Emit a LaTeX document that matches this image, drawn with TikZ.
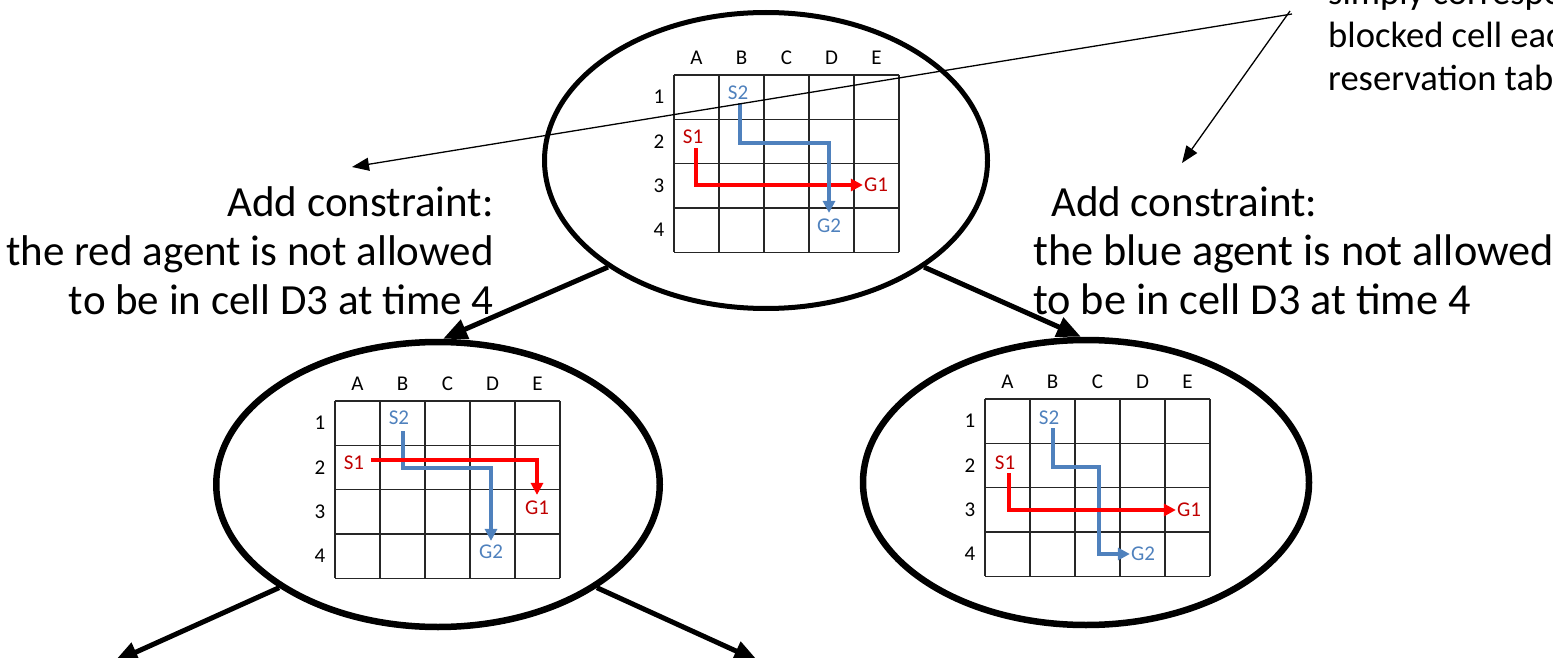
\documentclass[tikz,border=0pt]{standalone}
\usepackage{fontspec}
\setmainfont{Carlito}
\usetikzlibrary{shapes.geometric,arrows.meta}
\definecolor{agentblue}{RGB}{79,129,189}
\definecolor{agentred}{RGB}{255,0,0}
\definecolor{labelred}{RGB}{192,0,0}
\newcommand{\mfgrid}[3]{%
 \begin{scope}[shift={(#1,#2)}]
 \foreach \i in {0,...,5} {\draw[gridline] ({\i*45},0) -- ({\i*45},177.2);}
 \foreach \j in {0,...,4} {\draw[gridline] (0,{\j*44.3}) -- (225,{\j*44.3});}
 \foreach \l [count=\k] in {A,B,C,D,E} {\node[lbl] (#3c\l) at ({\k*45-22.5},-17) {\l};}
 \foreach \k in {1,...,4} {\node[lbl] (#3r\k) at (-15,{\k*44.3-22.15}) {\k};}
 \end{scope}}
\begin{document}
\begin{tikzpicture}[x=1pt,y=-1pt,
  state/.style={ellipse, draw=black, inner sep=0pt},
  gridline/.style={draw=black!85, line width=1.2pt, line cap=square},
  lbl/.style={font=\fontsize{21}{25}\selectfont, inner sep=0pt, text=black},
  blbl/.style={lbl, text=agentblue},
  rlbl/.style={lbl, text=labelred},
  bluepath/.style={draw=agentblue, line width=3.5pt, -{Triangle[length=12pt,width=12pt]}},
  redpath/.style={draw=agentred, line width=3.5pt, -{Triangle[length=12pt,width=12pt]}},
  branch/.style={draw=black, line width=5pt, -{Triangle[length=24pt,width=20pt]}},
  pointer/.style={draw=black, line width=1.3pt, -{Triangle[length=17pt,width=13pt]}},
  bigtext/.style={font=\fontsize{43}{49}\selectfont, inner sep=0pt},
  bigtextb/.style={font=\fontsize{44.3}{50}\selectfont, inner sep=0pt},
  notetext/.style={font=\fontsize{36.6}{43}\selectfont, inner sep=0pt}]
\useasboundingbox (0,0) rectangle (1553,658);
\clip (0,0) rectangle (1553,658);

% tree nodes
\node[state, line width=5pt, minimum width=443pt, minimum height=296pt] (root) at (766,160.5) {};
\node[state, line width=6.5pt, minimum width=443.5pt, minimum height=285pt] (left) at (438,484.5) {};
\node[state, line width=6.5pt, minimum width=446pt, minimum height=285pt] (right) at (1086,482.5) {};

% grids
\mfgrid{674}{75}{t}
\mfgrid{335}{401}{l}
\mfgrid{985}{399}{r}

% top grid agents
\node[blbl] (tS2) at (738,93) {S2};
\node[blbl] (tG2) at (829,226) {G2};
\node[rlbl] (tS1) at (693,137) {S1};
\node[rlbl] (tG1) at (876,185) {G1};
\draw[redpath] ([xshift=3pt,yshift=-4pt]tS1.south) |- ([xshift=-1pt]tG1.west);
\draw[bluepath] ([xshift=2pt,yshift=-3pt]tS2.south) |- (829,143) -- ([yshift=6pt]tG2.north);

% left grid agents
\node[blbl] (lS2) at (399,418) {S2};
\node[blbl] (lG2) at (491,552) {G2};
\node[rlbl] (lS1) at (354,463) {S1};
\node[rlbl] (lG1) at (537,508) {G1};
\draw[bluepath] ([xshift=4pt,yshift=-6pt]lS2.south) |- (491,468) -- ([yshift=4pt]lG2.north);
\draw[redpath] ([xshift=7pt,yshift=3pt]lS1.east) -| ([yshift=6pt]lG1.north);

% right grid agents
\node[blbl] (rS2) at (1049,418) {S2};
\node[blbl] (rG2) at (1143,554) {G2};
\node[rlbl] (rS1) at (1005,463) {S1};
\node[rlbl] (rG1) at (1189,510) {G1};
\draw[bluepath] ([xshift=4pt,yshift=-3pt]rS2.south) |- (1099,467) |- ([xshift=-1pt]rG2.west);
\draw[redpath] ([xshift=4pt,yshift=-3pt]rS1.south) |- ([xshift=-1pt]rG1.west);

% texts
\node[bigtext, anchor=base east] (lt1) at (494,216) {Add constraint:};
\node[bigtext, anchor=base east] (lt2) at (494,265) {the red agent is not allowed};
\node[bigtext, anchor=base east] (lt3) at (494,314) {to be in cell D3 at time 4};
\node[bigtext, anchor=base west] (rt1) at (1051,216) {Add constraint:};
\node[bigtextb, anchor=base west] (rt2) at (1033,265) {the blue agent is not allowed};
\node[bigtextb, anchor=base west] (rt3) at (1033,314) {to be in cell D3 at time 4};
\node[notetext, anchor=base west] (n1) at (1328,5) {simply corresponds};
\node[notetext, anchor=base west] (n2) at (1328,48) {blocked cell each};
\node[notetext, anchor=base west] (n3) at (1328,91) {reservation table};

% branches
\coordinate (bl) at (114,662);
\coordinate (br) at (758,661);
\draw[branch] (root.214) -- (left.88);
\draw[branch] (root.326) -- (right.92);
\draw[branch] (left.213) -- (bl);
\draw[branch] (left.327) -- (br);

% pointers from the note
\coordinate (noteA) at (1292,14);
\coordinate (noteB) at (1290,11);
\coordinate (ptrL) at (352,167);
\coordinate (ptrR) at (1182,163);
\draw[pointer] (noteA) -- (ptrL);
\draw[pointer] (noteB) -- (ptrR);
\end{tikzpicture}
\end{document}
